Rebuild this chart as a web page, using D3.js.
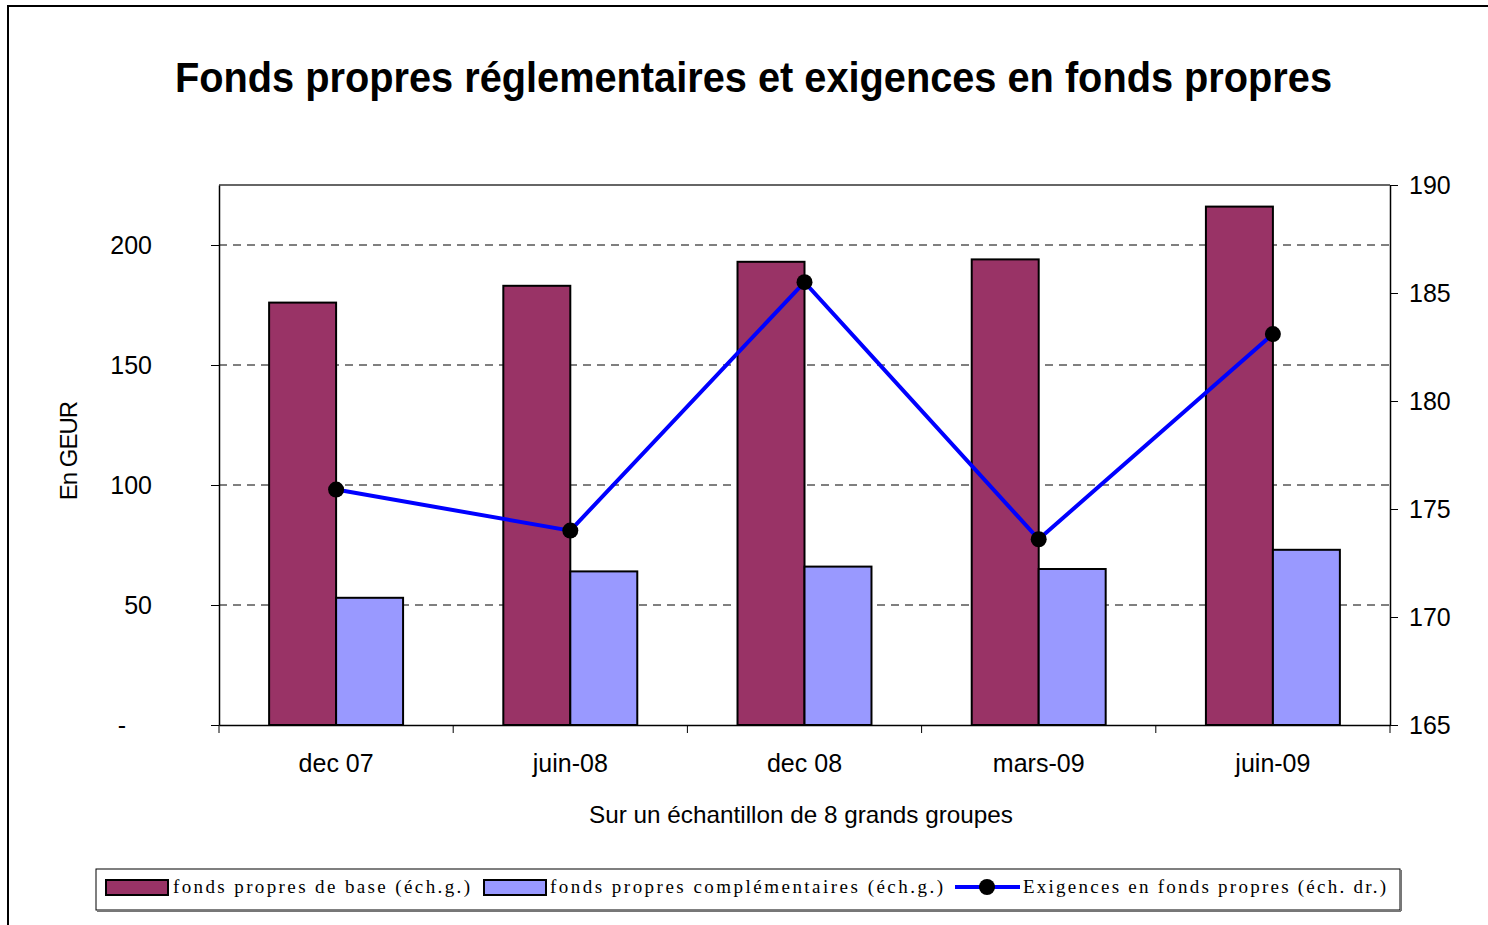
<!DOCTYPE html>
<html>
<head>
<meta charset="utf-8">
<script src="https://cdn.jsdelivr.net/npm/d3@7"></script>
<style>
body { margin: 0; background: #fff; }
</style>
</head>
<body>
<div id="canvas"></div>
<script>
var categories = ['dec 07', 'juin-08', 'dec 08', 'mars-09', 'juin-09'];
var baseValues = [176, 183, 193, 194, 216];
var complValues = [53, 64, 66, 65, 73];
var exigValues = [175.9, 174.0, 185.5, 173.6, 183.1];
var leftTicks = [0, 50, 100, 150, 200];
var rightTicks = [165, 170, 175, 180, 185, 190];

var svgWidth = 1488, svgHeight = 925;
var baseColor = '#993366';
var complColor = '#9999FF';
var lineColor = '#0000FF';
var sansFont = 'Liberation Sans, Arial, sans-serif';

var svg = d3.select('#canvas').append('svg')
    .attr('width', svgWidth)
    .attr('height', svgHeight)
    .style('display', 'block');

// outer frame (only top and left visible in the crop)
svg.append('line')
    .attr('x1', 8).attr('x2', svgWidth).attr('y1', 6).attr('y2', 6)
    .attr('stroke', '#000').attr('stroke-width', 2);
svg.append('line')
    .attr('x1', 8).attr('x2', 8).attr('y1', 5).attr('y2', svgHeight)
    .attr('stroke', '#000').attr('stroke-width', 2);

// title
svg.append('text')
    .attr('x', 175).attr('y', 92)
    .attr('textLength', 1157)
    .attr('lengthAdjust', 'spacingAndGlyphs')
    .attr('font-family', sansFont)
    .attr('font-weight', 'bold')
    .attr('font-size', '42px')
    .text('Fonds propres réglementaires et exigences en fonds propres');

var plotL = 219, plotR = 1390, plotT = 185, plotB = 725;

var x = d3.scaleBand().domain(categories).range([plotL, plotR]).paddingInner(0).paddingOuter(0);
var yL = d3.scaleLinear().domain([0, 225]).range([plotB, plotT]);
var yR = d3.scaleLinear().domain([165, 190]).range([plotB, plotT]);

var barW = x.bandwidth() * 0.286;
var gap = (x.bandwidth() - 2 * barW) / 2;

// gridlines
svg.append('g').selectAll('line')
    .data(leftTicks.filter(function(d) { return d > 0; }))
    .enter().append('line')
    .attr('x1', plotL).attr('x2', plotR)
    .attr('y1', function(d) { return yL(d); })
    .attr('y2', function(d) { return yL(d); })
    .attr('stroke', '#000').attr('stroke-width', 1)
    .attr('stroke-dasharray', '8,6');

// top border of plot
svg.append('line')
    .attr('x1', plotL).attr('x2', plotR)
    .attr('y1', plotT).attr('y2', plotT)
    .attr('stroke', '#333').attr('stroke-width', 1.5);

// bars
svg.append('g').selectAll('rect')
    .data(baseValues)
    .enter().append('rect')
    .attr('x', function(d, i) { return x(categories[i]) + gap; })
    .attr('y', function(d) { return yL(d); })
    .attr('width', barW)
    .attr('height', function(d) { return plotB - yL(d); })
    .attr('fill', baseColor).attr('stroke', '#000').attr('stroke-width', 2);

svg.append('g').selectAll('rect')
    .data(complValues)
    .enter().append('rect')
    .attr('x', function(d, i) { return x(categories[i]) + gap + barW; })
    .attr('y', function(d) { return yL(d); })
    .attr('width', barW)
    .attr('height', function(d) { return plotB - yL(d); })
    .attr('fill', complColor).attr('stroke', '#000').attr('stroke-width', 2);

// left axis
var leftAxis = svg.append('g')
    .attr('transform', 'translate(' + plotL + ',0)')
    .call(d3.axisLeft(yL).tickValues(leftTicks).tickSize(8).tickSizeOuter(0)
        .tickFormat(function(d) { return d === 0 ? '-' : d; }));
leftAxis.select('.domain').attr('stroke', '#000').attr('stroke-width', 1.5);
leftAxis.selectAll('.tick line').attr('stroke', '#000');
leftAxis.selectAll('.tick text')
    .attr('x', -67)
    .attr('font-family', sansFont)
    .attr('font-size', '25px').attr('fill', '#000');
leftAxis.selectAll('.tick text').filter(function(d) { return d === 0; })
    .attr('x', -93);

// right axis
var rightAxis = svg.append('g')
    .attr('transform', 'translate(' + plotR + ',0)')
    .call(d3.axisRight(yR).tickValues(rightTicks).tickSize(8).tickSizeOuter(0));
rightAxis.select('.domain').attr('stroke', '#000').attr('stroke-width', 1.5);
rightAxis.selectAll('.tick line').attr('stroke', '#000');
rightAxis.selectAll('.tick text')
    .attr('x', 19)
    .attr('font-family', sansFont)
    .attr('font-size', '25px').attr('fill', '#000');

// bottom axis
var bottomAxis = svg.append('g')
    .attr('transform', 'translate(0,' + plotB + ')')
    .call(d3.axisBottom(x).tickSize(0).tickSizeOuter(0));
bottomAxis.select('.domain').attr('stroke', '#000').attr('stroke-width', 1.5);
bottomAxis.selectAll('.tick text')
    .attr('y', 29)
    .attr('font-family', sansFont)
    .attr('font-size', '25px').attr('fill', '#000');
// category separators
bottomAxis.append('g').selectAll('line')
    .data(d3.range(categories.length + 1))
    .enter().append('line')
    .attr('x1', function(i) { return plotL + i * x.step(); })
    .attr('x2', function(i) { return plotL + i * x.step(); })
    .attr('y1', 0).attr('y2', 8)
    .attr('stroke', '#000').attr('stroke-width', 1);

// line series
var line = d3.line()
    .x(function(d, i) { return x(categories[i]) + gap + barW; })
    .y(function(d) { return yR(d); });
svg.append('path')
    .datum(exigValues)
    .attr('d', line)
    .attr('fill', 'none').attr('stroke', lineColor).attr('stroke-width', 4);
svg.append('g').selectAll('circle')
    .data(exigValues)
    .enter().append('circle')
    .attr('cx', function(d, i) { return x(categories[i]) + gap + barW; })
    .attr('cy', function(d) { return yR(d); })
    .attr('r', 8).attr('fill', '#000');

// axis titles
svg.append('text')
    .attr('transform', 'translate(77,451) rotate(-90)')
    .attr('text-anchor', 'middle')
    .attr('font-family', sansFont)
    .attr('font-size', '24px')
    .attr('letter-spacing', '-1px')
    .text('En GEUR');
svg.append('text')
    .attr('x', 589).attr('y', 823)
    .attr('textLength', 424)
    .attr('lengthAdjust', 'spacingAndGlyphs')
    .attr('font-family', sansFont)
    .attr('font-size', '24px')
    .text('Sur un échantillon de 8 grands groupes');

// legend
var legend = svg.append('g');
legend.append('rect')
    .attr('x', 96).attr('y', 869).attr('width', 1304).attr('height', 41)
    .attr('fill', '#fff').attr('stroke', '#000').attr('stroke-width', 1);
legend.append('line')
    .attr('x1', 97).attr('x2', 1401).attr('y1', 911).attr('y2', 911)
    .attr('stroke', '#777').attr('stroke-width', 2);
legend.append('line')
    .attr('x1', 1401).attr('x2', 1401).attr('y1', 870).attr('y2', 911)
    .attr('stroke', '#777').attr('stroke-width', 2);

var legendItems = [
    {label: 'fonds propres de base (éch.g.)', color: baseColor, sx: 106, tx: 173, tw: 297},
    {label: 'fonds propres complémentaires (éch.g.)', color: complColor, sx: 484, tx: 550, tw: 393},
    {label: 'Exigences en fonds propres (éch. dr.)', color: null, sx: 955, tx: 1023, tw: 363}
];
legendItems.forEach(function(it) {
    if (it.color) {
        legend.append('rect')
            .attr('x', it.sx).attr('y', 880).attr('width', 62).attr('height', 15)
            .attr('fill', it.color).attr('stroke', '#000').attr('stroke-width', 2);
    } else {
        legend.append('line')
            .attr('x1', it.sx).attr('x2', it.sx + 65).attr('y1', 887).attr('y2', 887)
            .attr('stroke', lineColor).attr('stroke-width', 4);
        legend.append('circle')
            .attr('cx', it.sx + 32).attr('cy', 887).attr('r', 8).attr('fill', '#000');
    }
    legend.append('text')
        .attr('x', it.tx).attr('y', 893)
        .attr('textLength', it.tw)
        .attr('lengthAdjust', 'spacing')
        .attr('font-family', 'Liberation Serif, Times New Roman, serif')
        .attr('font-size', '19px')
        .text(it.label);
});
</script>
</body>
</html>
